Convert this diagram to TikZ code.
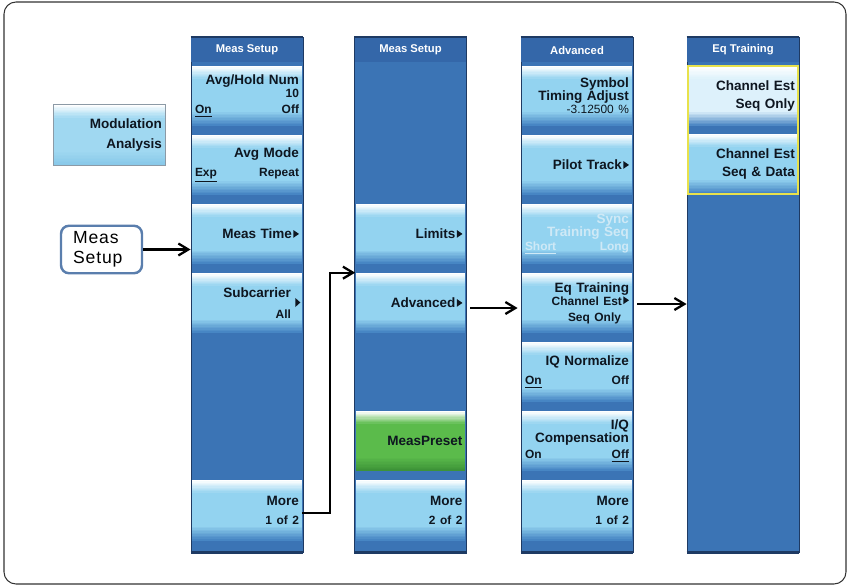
\documentclass[tikz,border=0pt]{standalone}
\usepackage{fontspec}
\setmainfont{Liberation Sans}
\newfontfamily\keyfont[LetterSpace=5]{Liberation Sans}
\usetikzlibrary{arrows.meta}

\definecolor{pnlbody}{HTML}{3B74B5}
\definecolor{pnlhead}{HTML}{3467A9}
\definecolor{pnledge}{HTML}{1E3A63}
\definecolor{btnblue}{HTML}{93D3F0}
\definecolor{btndark}{HTML}{3F7EBF}
\definecolor{btnpale}{HTML}{DDF1FB}
\definecolor{btngreen}{HTML}{5BBB4B}
\definecolor{grndark}{HTML}{3A8F36}
\definecolor{modtop}{HTML}{A0D8F1}
\definecolor{modlow}{HTML}{86C7E8}
\definecolor{modrim}{HTML}{8C9AA6}
\definecolor{txt}{HTML}{0E1620}
\definecolor{greyed}{HTML}{CFE9F6}
\definecolor{keyrim}{HTML}{5A7EAD}
\definecolor{selrim}{HTML}{E8E24C}
\definecolor{framec}{HTML}{333333}

\newcommand{\sm}[1]{{\fontsize{6.8}{7.4}\selectfont #1}}
\newcommand{\arr}{\kern0.8pt\tikz[baseline]\fill (0,0.6pt)--(0,5pt)--(3.2pt,2.8pt)--cycle;}

\begin{document}
\begin{tikzpicture}[x=0.02cm,y=-0.02cm,
  shade key/.style 2 args={fill=#1,path picture={
    \foreach \k in {0,...,9} {
      \fill[#1!\k0!white] ([yshift=-\k*0.025cm]path picture bounding box.north west) rectangle ([yshift=-\k*0.025cm-0.035cm]path picture bounding box.north east);
      \fill[#2!\k0!#1] ([yshift=0.3cm-\k*0.03cm]path picture bounding box.south west) rectangle ([yshift=0.26cm-\k*0.03cm]path picture bounding box.south east);
    }}},
  panel/.style={draw=pnledge,line width=0.5pt,fill=pnlbody,minimum width=2.24cm,minimum height=10.3cm,inner sep=0pt},
  head/.style={fill=pnlhead,minimum width=2.24cm,minimum height=0.5cm,inner sep=0pt,text=white,font=\bfseries\fontsize{6.4}{7}\selectfont},
  soft/.style={shade key={btnblue}{btndark},minimum width=2.2cm,minimum height=1.2cm,inner xsep=0.06cm,inner ysep=0pt,
    text width=2.08cm,align=right,text=txt,font=\bfseries\fontsize{7.7}{7.4}\selectfont},
  hardkey/.style={draw=keyrim,line width=1.4pt,rounded corners=0.16cm,fill=white,minimum width=1.62cm,minimum height=0.94cm,
    inner xsep=0.24cm,text width=1.14cm,align=left,font=\keyfont\fontsize{10}{11.4}\selectfont},
  link/.style={line width=1.3pt,-{Straight Barb[length=2mm,width=2.4mm]}}]

\useasboundingbox (0,0) rectangle (849,585);
\draw[framec,line width=0.6pt,rounded corners=0.24cm] (4,2) rectangle (846,584);

\node[soft,draw=modrim,shade key={modtop}{modlow},minimum width=2.24cm,minimum height=1.22cm,text width=2.12cm,inner xsep=0.04cm] (mod) at (109,135) {Modulation\\[4pt]Analysis};
\node[hardkey] (key) at (101.5,249.5) {Meas\\Setup};

\node[panel] (pnlA) at (247,294.5) {};
\node[panel] (pnlB) at (410.5,294.5) {};
\node[panel] (pnlC) at (577,294.5) {};
\node[panel] (pnlD) at (743,294.5) {};

\node[head] (hdA) at (247,50) {Meas Setup};
\node[head] (hdB) at (410.5,50) {Meas Setup};
\node[head] (hdC) at (577,50) {Advanced};
\node[head] (hdD) at (743,50) {Eq Training};

\foreach \p in {pnlA,pnlB,pnlC,pnlD} {
  \draw[pnledge,line width=1.2pt] (\p.north west) -- (\p.north east);
  \draw[pnledge,line width=1.6pt] (\p.south west) -- (\p.south east);
}

\node[soft] (ahn) at (247,96) {Avg/Hold Num\\\sm{10}\\[1.7pt]\sm{\underline{On}\hfill Off}};
\node[soft] (avm) at (247,165) {Avg Mode\\[3.4pt]\sm{\underline{Exp}\hfill Repeat}};
\node[soft] (mtm) at (247,234) {Meas Time\arr};
\node[soft] (sbc) at (247,303) {Subcarrier\kern0.16cm\\[4.5pt]\sm{All}\kern0.16cm};
\fill[txt] ([shift={(-7,-5)}]sbc.east) -- ++(0,9) -- ++(5,-4.5) -- cycle;
\node[soft] (mrA) at (247,510) {More\\[3.4pt]\sm{1 of 2}};

\node[soft] (lim) at (410.5,234) {Limits\arr};
\node[soft] (adv) at (410.5,303) {Advanced\arr};
\node[soft,shade key={btngreen}{grndark}] (mps) at (410.5,441) {MeasPreset};
\node[soft] (mrB) at (410.5,510) {More\\[3.4pt]\sm{2 of 2}};

\node[soft] (sta) at (577,96) {Symbol\\Timing Adjust\\\sm{\mdseries -3.12500 \%}};
\node[soft] (plt) at (577,165) {Pilot Track\arr};
\node[soft,text=greyed] (sts) at (577,234) {Sync\\Training Seq\\[0.6pt]\sm{\underline{Short}\hfill Long}};
\node[soft] (eqt) at (577,303) {Eq Training\\\sm{Channel Est\arr}\\[1.7pt]\sm{Seq Only\kern0.16cm}};
\node[soft] (iqn) at (577,372) {IQ Normalize\\[3.4pt]\sm{\underline{On}\hfill Off}};
\node[soft] (iqc) at (577,441) {I/Q\\Compensation\\[1.7pt]\sm{On\hfill\underline{Off}}};
\node[soft] (mrC) at (577,510) {More\\[3.4pt]\sm{1 of 2}};

\node[soft,shade key={btnpale}{btndark}] (ceA) at (743,96) {Channel Est\\[3.4pt]Seq Only};
\node[soft] (ceB) at (743,164) {Channel Est\\[3.4pt]Seq \& Data};
\draw[selrim,line width=1.2pt] (ceA.north west) rectangle (ceB.south east);

\coordinate (a1) at ([yshift=-0.06cm]mrA.east);
\coordinate (a2) at ([yshift=-0.1cm]adv.east);
\coordinate (a3) at ([yshift=-0.02cm]eqt.east);

\draw[link] (key.east) -- (key.east -| pnlA.west);
\draw[link] (a1) -- ++(28,0) |- (adv.north west);
\draw[link,shorten <=0.09cm,shorten >=0.06cm] (a2) -- (a2 -| pnlC.west);
\draw[link,shorten <=0.1cm] (a3) -- (a3 -| pnlD.west);
\end{tikzpicture}
\end{document}
